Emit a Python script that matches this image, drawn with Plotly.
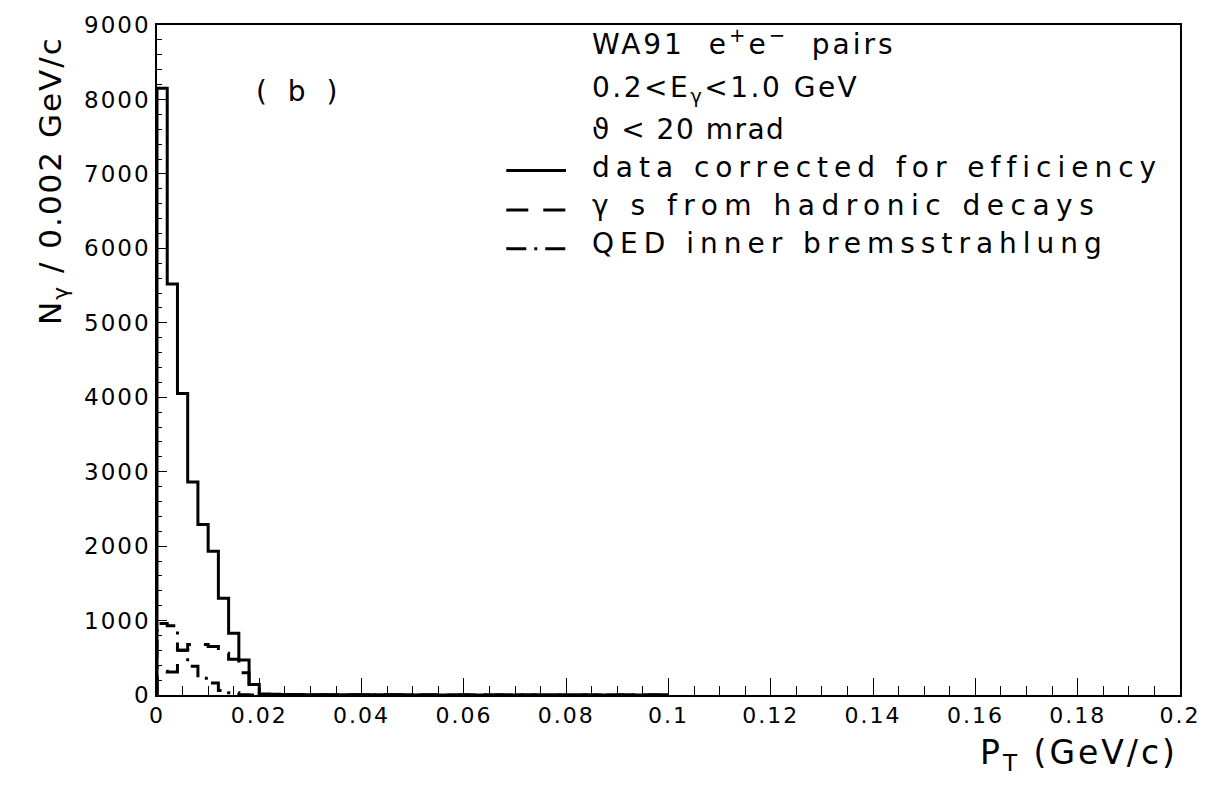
import plotly.graph_objects as go

# ---------------- data ----------------
bin_width = 0.002  # GeV/c
data_counts = [8150, 5520, 4050, 2860, 2290, 1930, 1300, 830, 470, 140,
               12, 9, 7, 6, 5, 4, 4, 3, 3, 3,
               2, 2, 2, 2, 2, 1, 1, 1, 1, 1,
               1, 1, 1, 1, 1, 0, 0, 0, 0, 0,
               0, 0, 0, 0, 0, 0, 0, 0, 0, 0]
hadronic_counts = [320, 310, 600, 680, 680, 650, 560, 480, 300, 150,
                   6, 4, 3, 2, 2, 1, 1, 1, 0, 0,
                   0, 0, 0, 0, 0, 0, 0, 0, 0, 0,
                   0, 0, 0, 0, 0, 0, 0, 0, 0, 0,
                   0, 0, 0, 0, 0, 0, 0, 0, 0, 0]
qed_counts = [960, 930, 600, 385, 225, 160, 60, 30, 5, 0,
              0, 0, 0, 0, 0, 0, 0, 0, 0, 0,
              0, 0, 0, 0, 0, 0, 0, 0, 0, 0,
              0, 0, 0, 0, 0, 0, 0, 0, 0, 0,
              0, 0, 0, 0, 0, 0, 0, 0, 0, 0]

x_tick_vals = [0, 0.02, 0.04, 0.06, 0.08, 0.1, 0.12, 0.14, 0.16, 0.18, 0.2]
x_tick_labels = ["0", "0.02", "0.04", "0.06", "0.08", "0.1", "0.12", "0.14", "0.16", "0.18", "0.2"]
y_tick_vals = [0, 1000, 2000, 3000, 4000, 5000, 6000, 7000, 8000, 9000]
y_tick_labels = ["0", "1000", "2000", "3000", "4000", "5000", "6000", "7000", "8000", "9000"]

legend_labels = ["data corrected for efficiency",
                 "\u03b3 s from hadronic decays",
                 "QED inner bremsstrahlung"]
header_lines = ["WA91  e<sup>+</sup>e<sup>\u2212</sup>  pairs",
                "0.2&lt;E<sub>\u03b3</sub>&lt;1.0 GeV",
                "\u03d1 &lt; 20 mrad"]
panel_label = "( b )"

FONT = "DejaVu Sans"


def spaced(txt, px):
    return '<span style="letter-spacing:%spx">%s</span>' % (px, txt)


def step_xy(counts):
    edges = [i * bin_width for i in range(len(counts) + 1)]
    xs = [0.0] + edges
    ys = [0.0] + list(counts) + [counts[-1]]
    return xs, ys


fig = go.Figure()

for counts, dash in [(qed_counts, "18px,8px,3px,8px"),
                     (hadronic_counts, "20px,13px"),
                     (data_counts, "solid")]:
    xs, ys = step_xy(counts)
    fig.add_trace(go.Scatter(x=xs, y=ys, mode="lines", line_shape="hv",
                             line=dict(color="black", width=3, dash=dash),
                             showlegend=False, hoverinfo="skip"))

# ---------------- layout ----------------
L, R, T, B = 157, 28, 18, 95
W, H = 1213, 790
pw, ph = W - L - R, H - T - B


def px2paper(px, py):
    return (px - L) / pw, (H - B - py) / ph


fig.update_layout(
    width=W, height=H,
    margin=dict(l=L, r=R, t=T, b=B),
    paper_bgcolor="white", plot_bgcolor="white",
    font=dict(family=FONT, color="black"),
    showlegend=False,
)

fig.update_xaxes(
    range=[0, 0.2], showgrid=False, zeroline=False,
    showline=True, linecolor="black", linewidth=1.5, mirror=True,
    ticks="inside", ticklen=17, tickwidth=1.2, tickcolor="black",
    tickvals=x_tick_vals, ticktext=[spaced(t, 2) for t in x_tick_labels],
    tickfont=dict(size=22, family=FONT, color="black"),
    minor=dict(ticks="inside", dtick=0.005, ticklen=9, tickwidth=1.2, tickcolor="black"),
)
fig.update_yaxes(
    range=[0, 9000], showgrid=False, zeroline=False,
    showline=True, linecolor="black", linewidth=1.5, mirror=True,
    ticks="inside", ticklen=10, tickwidth=1.2, tickcolor="black",
    tickvals=y_tick_vals, ticktext=[spaced(t, 2) for t in y_tick_labels],
    tickfont=dict(size=23, family=FONT, color="black"),
    minor=dict(ticks="inside", dtick=200, ticklen=5, tickwidth=1.2, tickcolor="black"),
)

annotations = []
# axis titles
ax, ay = px2paper(52, 175)
annotations.append(dict(text=spaced("N<sub>\u03b3</sub> / 0.002 GeV/c", 2), x=ax, y=ay,
                        xref="paper", yref="paper", xanchor="center", yanchor="middle",
                        textangle=-90, showarrow=False, font=dict(size=31, family=FONT)))
ax, ay = px2paper(1185, 755)
annotations.append(dict(text=spaced("P<sub>T</sub> (GeV/c)", 3), x=ax, y=ay,
                        xref="paper", yref="paper", xanchor="right", yanchor="middle",
                        showarrow=False, font=dict(size=33, family=FONT)))
# panel label
ax, ay = px2paper(300, 85)
annotations.append(dict(text=spaced(panel_label, 6), x=ax, y=ay, xref="paper", yref="paper",
                        xanchor="center", yanchor="middle", showarrow=False,
                        font=dict(size=28, family=FONT)))
# header lines + legend labels
line_y = [36, 83, 124, 162, 200, 239]
spacing = [3, 2.5, 1.5, 6, 6.5, 6]
for txt, yy, sp in zip(header_lines + legend_labels, line_y, spacing):
    ax, ay = px2paper(592, yy)
    annotations.append(dict(text=spaced(txt, sp), x=ax, y=ay, xref="paper", yref="paper",
                            xanchor="left", yanchor="middle", showarrow=False,
                            font=dict(size=28, family=FONT)))
fig.update_layout(annotations=annotations)

# legend sample lines
shapes = []
for yy, dash in [(165, "solid"), (205, "22px,15px"), (244, "20px,8px,3px,8px")]:
    x0, y0 = px2paper(508, yy)
    x1, _ = px2paper(568, yy)
    shapes.append(dict(type="line", xref="paper", yref="paper", x0=x0, x1=x1, y0=y0, y1=y0,
                       line=dict(color="black", width=3, dash=dash)))
fig.update_layout(shapes=shapes)

fig.write_html("out.html")
